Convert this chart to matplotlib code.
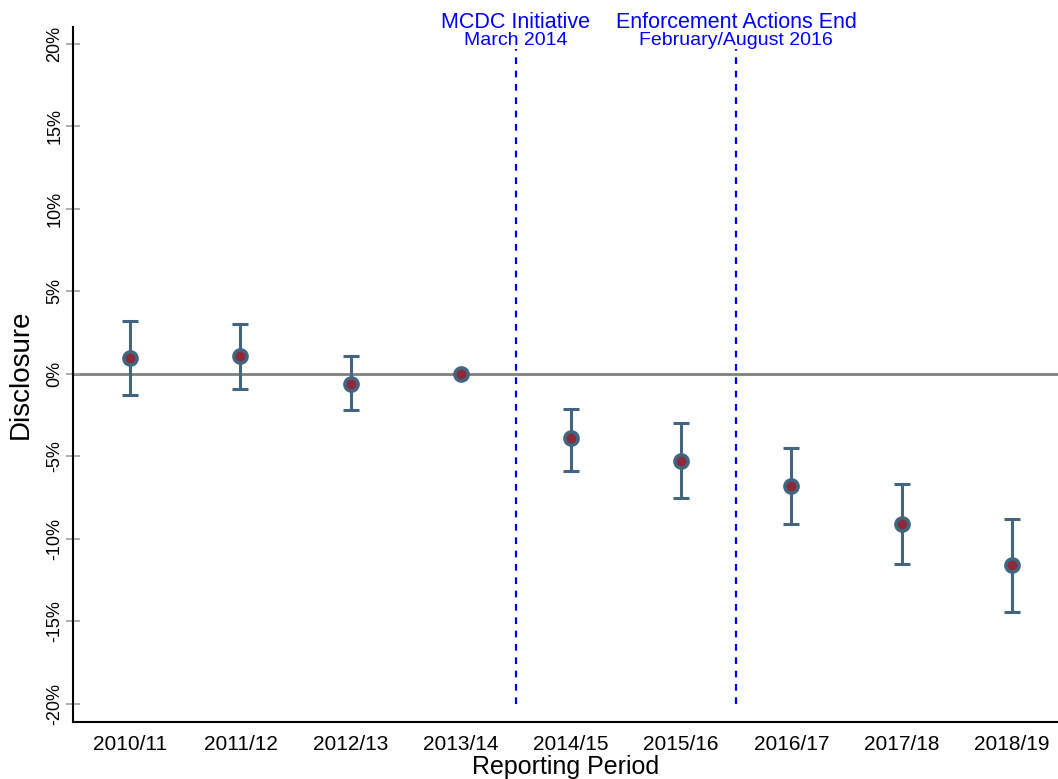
import numpy as np
import matplotlib.pyplot as plt

plt.rcParams['font.family'] = ['Liberation Sans', 'DejaVu Sans']

periods = ['2010/11', '2011/12', '2012/13', '2013/14', '2014/15',
           '2015/16', '2016/17', '2017/18', '2018/19']
estimate = [0.97, 1.1, -0.6, 0.0, -3.9, -5.3, -6.8, -9.1, -11.6]
ci_low = [-1.3, -0.9, -2.2, 0.0, -5.9, -7.5, -9.1, -11.5, -14.4]
ci_high = [3.2, 3.0, 1.1, 0.0, -2.1, -3.0, -4.5, -6.7, -8.8]
yticks = [-20, -15, -10, -5, 0, 5, 10, 15, 20]

x = np.arange(1, len(periods) + 1)
est = np.array(estimate)
lo = np.array(ci_low)
hi = np.array(ci_high)

fig = plt.figure(figsize=(10.58, 7.79), dpi=100)
ax = fig.add_axes([0.069, 0.073, 0.931, 0.892])

ax.axhline(0, color='#808080', lw=2, zorder=1)
# event lines stop just under the labels
ax.vlines([4.5, 6.5], -20, 19.7, colors='blue', linestyles=(0, (3, 3)), lw=1.6, zorder=1)

has_err = hi - lo > 0
ax.errorbar(x[has_err], est[has_err], yerr=[est[has_err] - lo[has_err], hi[has_err] - est[has_err]],
            fmt='none', ecolor='#42667f', elinewidth=2.2, capsize=5.5, capthick=2.2, zorder=2)
ax.plot(x, est, 'o', ms=9.5, mfc='#8b2a3a', mec='#42667f', mew=2.5, zorder=3)

ax.text(4.5, 20.97, 'MCDC Initiative', color='blue', fontsize=15.5, ha='center', va='baseline', clip_on=False)
ax.text(4.5, 19.94, 'March 2014', color='blue', fontsize=14, ha='center', va='baseline', clip_on=False)
ax.text(6.5, 20.97, 'Enforcement Actions End', color='blue', fontsize=15.5, ha='center', va='baseline', clip_on=False)
ax.text(6.5, 19.94, 'February/August 2016', color='blue', fontsize=14, ha='center', va='baseline', clip_on=False)

ax.set_xlim(0.48, 9.42)
ax.set_ylim(-21.1, 21.0)
ax.set_xticks(x)
ax.set_xticklabels(periods, fontsize=15)
ax.set_yticks(yticks)
ax.set_yticklabels([f'{t}%' for t in yticks], fontsize=13, rotation=90, va='center')
ax.tick_params(axis='x', length=0, pad=9)
ax.tick_params(axis='y', direction='inout', length=10, color='#a0a0a0', width=1.2, pad=2)

ax.spines['top'].set_visible(False)
ax.spines['right'].set_visible(False)
ax.spines['left'].set_linewidth(1.5)
ax.spines['bottom'].set_linewidth(1.5)

ax.set_xlabel('Reporting Period', fontsize=18, labelpad=1)
ax.set_ylabel('Disclosure', fontsize=20, labelpad=9)

fig.savefig('out.png', dpi=100)
